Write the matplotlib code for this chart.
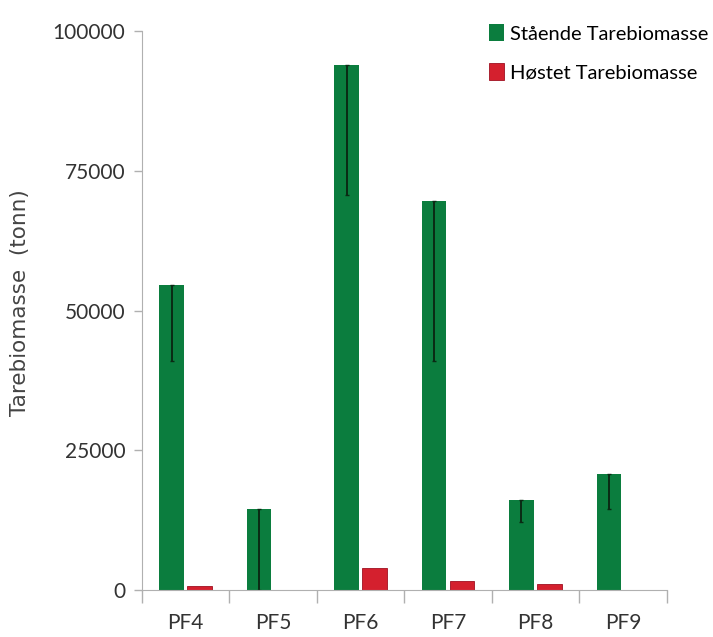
import numpy as np
import matplotlib.pyplot as plt

# Tarebiomasse per felt (tonn)
felt = ["PF4", "PF5", "PF6", "PF7", "PF8", "PF9"]
staaende = [54500, 14500, 94000, 69600, 16000, 20700]
staaende_nedre = [41000, 0, 70700, 41000, 12200, 14500]
hostet = [700, 0, 4000, 1500, 1000, 0]

gronn = "#0b7d3e"
rod = "#d4202e"
grå = "#b0b0b0"
smal = ["Lato", "DejaVu Sans"]

fig = plt.figure(figsize=(7.13, 6.37), dpi=100)
ax = fig.add_axes([0.199, 0.074, 0.736, 0.877])

x = np.arange(len(felt))
b = 0.28
feil = [np.array(staaende) - np.array(staaende_nedre), np.zeros(len(felt))]

ax.bar(x - 0.16, staaende, width=b, color=gronn, label="Stående Tarebiomasse",
       yerr=feil, error_kw=dict(ecolor="#0a2a14", elinewidth=1.4, capsize=1.5, capthick=1))
ax.bar(x + 0.16, hostet, width=b, color=rod, edgecolor="#a01020", linewidth=0.6,
       label="Høstet Tarebiomasse")

ax.set_xlim(-0.5, len(felt) - 0.5)
ax.set_ylim(0, 100000)
ax.set_yticks([0, 25000, 50000, 75000, 100000])
ax.set_yticklabels(["0", "25000", "50000", "75000", "100000"], family=smal,
                   fontsize=15, color="#333333")

ax.set_xticks(x)
ax.set_xticklabels(felt, family=smal, fontsize=15, color="#333333")
ax.tick_params(axis="x", length=0, pad=17)
ax.set_xticks(np.arange(-0.5, len(felt)), minor=True)
ax.tick_params(axis="x", which="minor", length=9, color=grå, width=1)
ax.tick_params(axis="y", length=6, color=grå, width=1, pad=6)

for s in ["top", "right"]:
    ax.spines[s].set_visible(False)
ax.spines["left"].set_color(grå)
ax.spines["bottom"].set_color(grå)

ax.set_ylabel("Tarebiomasse  (tonn)", fontsize=15.5, color="#444444")
ax.yaxis.set_label_coords(-0.213, 0.515)

fig.legend(loc="upper left", bbox_to_anchor=(0.66, 0.99), frameon=False,
           prop=dict(family=smal, size=14.5), labelspacing=1.0,
           handlelength=0.75, handleheight=0.9, handletextpad=0.3)

fig.savefig("out.png", dpi=100)
